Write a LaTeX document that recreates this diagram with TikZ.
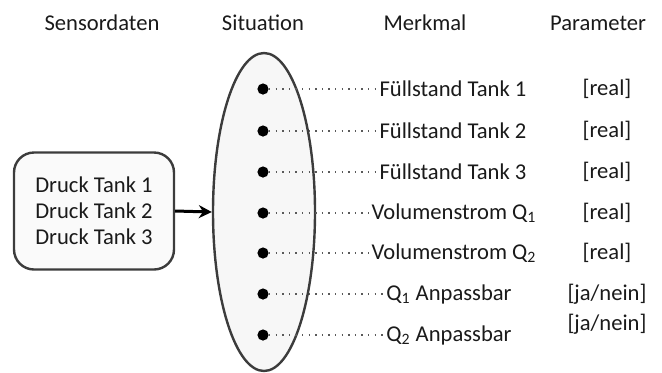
\documentclass[tikz,border=0pt]{standalone}
\usepackage{fontspec}
\setmainfont{Carlito}
\usetikzlibrary{shapes.geometric,arrows.meta}
\definecolor{ink}{HTML}{1A1A1A}
\definecolor{rim}{HTML}{3C3C3C}
\definecolor{boxfill}{HTML}{FAFAFA}
\definecolor{sitfill}{HTML}{F7F7F7}
\tikzset{
  txt/.style={font=\fontsize{11.3}{13}\selectfont, text=ink, inner sep=1pt},
  head/.style={txt},
  feature/.style={txt, anchor=center},
  param/.style={txt},
  dot/.style={circle, fill=black, inner sep=0pt, minimum size=5.6pt},
  link/.style={draw=gray!70!black, line width=0.7pt, dash pattern=on 0.7pt off 2.6pt},
}
\begin{document}
\begin{tikzpicture}[x=0.5pt, y=-0.5pt]
\useasboundingbox (0,0) rectangle (662,372);

% column headings
\node[head] (hSensor) at (102,23) {Sensordaten};
\node[head] (hSit)    at (263,23) {Situation};
\node[head] (hMerk)   at (425,23) {Merkmal};
\node[head] (hPar)    at (598,23) {Parameter};

% sensor box
\node[draw=rim, line width=1.2pt, rounded corners=10pt, fill=boxfill,
      minimum width=80pt, minimum height=58.5pt, align=center, txt, inner sep=1pt] (sensor)
  at (94,211) {Druck Tank 1\\Druck Tank 2\\Druck Tank 3};

% situation ellipse
\node[ellipse, draw=rim, line width=1.2pt, fill=sitfill,
      minimum width=51pt, minimum height=159pt] (sit) at (264,212) {};

\draw[-{Stealth[length=6.5pt,width=6.5pt]}, line width=1.5pt, black] (sensor.east) -- (sit.west);

% features with their dots and parameters
\foreach \i/\y/\fx/\lab/\ptype in {
  1/89/453/{Füllstand Tank 1}/{[real]},
  2/131/453/{Füllstand Tank 2}/{[real]},
  3/172/453/{Füllstand Tank 3}/{[real]},
  4/213/454/{Volumenstrom Q\textsubscript{1}}/{[real]},
  5/253/454/{Volumenstrom Q\textsubscript{2}}/{[real]},
  6/294/449/{Q\textsubscript{1} Anpassbar}/{[ja/nein]}}{
  \node[dot] (d\i) at (263,\y) {};
  \node[feature] (f\i) at (\fx,\y) {\lab};
  \node[param] (p\i) at (607,\y) {\ptype};
  \draw[link] (d\i) -- (f\i.west);
}
\node[dot] (d7) at (263,335) {};
\node[feature] (f7) at (449,335) {Q\textsubscript{2} Anpassbar};
\node[param] (p7) at (607,324) {[ja/nein]};
\draw[link] (d7) -- (f7.west);
\end{tikzpicture}
\end{document}
